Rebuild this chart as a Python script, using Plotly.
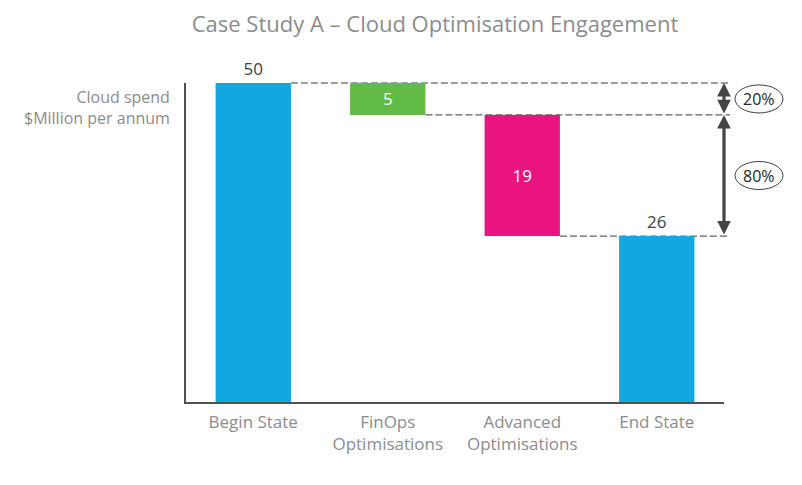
import plotly.graph_objects as go

# ---- data ----
categories = ["Begin State", "FinOps<br>Optimisations", "Advanced<br>Optimisations", "End State"]
begin_value = 50
savings = [5, 19]
end_value = begin_value - sum(savings)  # 26
pct_labels = ["20%", "80%"]

values = [begin_value] + savings + [end_value]
bases = [0, begin_value - savings[0], begin_value - savings[0] - savings[1], 0]

colors = ["#12A7E0", "#62BB46", "#E9147F", "#12A7E0"]
text_pos = ["outside", "inside", "inside", "outside"]
text_col = ["#404040", "#FFFFFF", "#FFFFFF", "#404040"]

FONT = "Open Sans"
BAR_W = 0.56
X0, X1 = -0.5, 3.5
Y0, Y1 = 0, 50
PLOT_W = 538
PLOT_H = 319


def px(xd):
    return (xd - X0) / (X1 - X0)


def py(yd):
    return (yd - Y0) / (Y1 - Y0)


fig = go.Figure()
fig.add_trace(go.Bar(
    x=categories, y=values, base=bases, width=BAR_W,
    marker=dict(color=colors, line=dict(width=0)),
    text=[str(v) for v in values], textposition=text_pos,
    textfont=dict(family=FONT, size=17, color=text_col),
    insidetextanchor="middle", constraintext="none", cliponaxis=False,
    hoverinfo="skip",
))

# dashed connectors
dash_color = "#3A3A3A"
x_end = 1 + 6 / PLOT_W
levels = [begin_value, bases[1], bases[2]]
starts = [0 + BAR_W / 2, 1 + BAR_W / 2, 2 + BAR_W / 2]
for lv, st in zip(levels, starts):
    fig.add_shape(type="line", xref="paper", yref="paper",
                  x0=px(st), x1=x_end, y0=py(lv), y1=py(lv),
                  line=dict(color=dash_color, width=1, dash="7px,3px"),
                  layer="below")

# arrows and percentage ellipses
seg = [(levels[0], levels[1]), (levels[1], levels[2])]
for (top, bot), lab in zip(seg, pct_labels):
    fig.add_annotation(x=1.0, y=top, xref="paper", yref="y",
                       ax=0, ay=bot, axref="pixel", ayref="y",
                       text="", showarrow=True, arrowside="end+start",
                       arrowhead=2, arrowsize=0.85, arrowwidth=3.2,
                       arrowcolor="#454545", standoff=0, startstandoff=0)
    mid = (top + bot) / 2
    cy = py(mid)
    fig.add_shape(type="circle", xref="paper", yref="paper",
                  x0=1.0 + 11 / PLOT_W, x1=1.0 + 59 / PLOT_W,
                  y0=cy - 14 / PLOT_H, y1=cy + 14 / PLOT_H,
                  line=dict(color="#404040", width=1), fillcolor="white")
    fig.add_annotation(x=1.0 + 35 / PLOT_W, y=cy, xref="paper", yref="paper",
                       xanchor="center", yanchor="middle",
                       text=lab, showarrow=False,
                       font=dict(family=FONT, size=16, color="#262626"))

# y axis label
fig.add_annotation(x=-14 / PLOT_W, y=py(50) - 25 / PLOT_H, xref="paper", yref="paper",
                   xanchor="right", yanchor="middle", align="right",
                   text="Cloud spend<br>$Million per annum", showarrow=False,
                   font=dict(family=FONT, size=16, color="#8C8C8C"))

fig.update_layout(
    width=802, height=485,
    margin=dict(l=178, r=86, t=75, b=91),
    paper_bgcolor="white", plot_bgcolor="white",
    showlegend=False,
    title=dict(text="Case Study A – Cloud Optimisation Engagement",
               x=427 / 802, xanchor="center", y=1 - 16 / 485, yanchor="middle",
               font=dict(family=FONT, size=22, color="#8C8C8C")),
    xaxis=dict(range=[X0, X1], showline=True, linecolor="#505050", linewidth=1.5,
               showgrid=False, zeroline=False, ticks="", ticklabelstandoff=4,
               tickfont=dict(family=FONT, size=17, color="#8C8C8C"),
               fixedrange=True),
    yaxis=dict(range=[Y0, Y1], showline=True, linecolor="#505050", linewidth=1.5,
               showgrid=False, zeroline=False, ticks="", showticklabels=False,
               fixedrange=True),
)

fig.write_html("out.html")
